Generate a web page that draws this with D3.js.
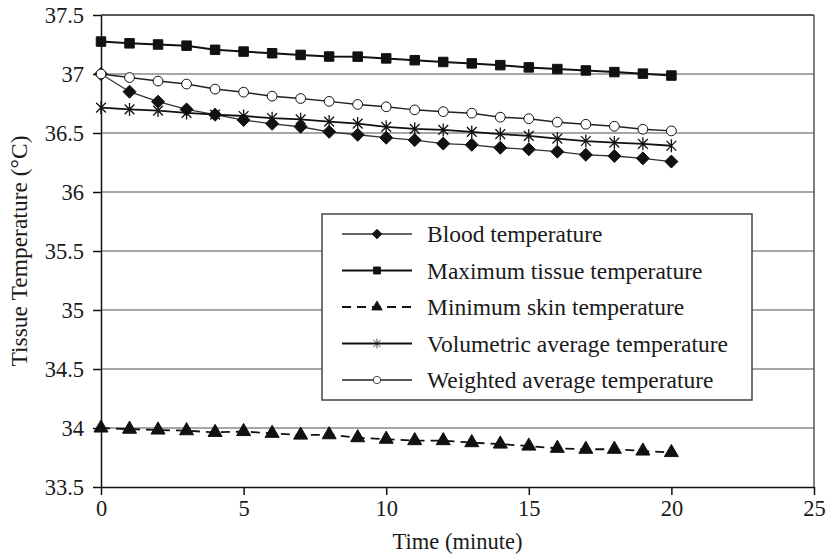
<!DOCTYPE html>
<html>
<head>
<meta charset="utf-8">
<script src="https://cdn.jsdelivr.net/npm/d3@7"></script>
<style>
  body { margin: 0; background: #fff; }
  text { font-family: "Liberation Serif", "DejaVu Serif", serif; fill: #1a1a1a; }
</style>
</head>
<body>
<div id="chart"></div>
<script>
// time in minutes
let minutes = d3.range(0, 21);

let xTicks = [0, 5, 10, 15, 20, 25];
let yTicks = [33.5, 34, 34.5, 35, 35.5, 36, 36.5, 37, 37.5];

let bloodTemp = [37.0, 36.85, 36.765, 36.70, 36.655, 36.61, 36.578, 36.553, 36.51, 36.485,
  36.46, 36.44, 36.41, 36.40, 36.375, 36.362, 36.342, 36.315, 36.305, 36.285, 36.258];
let maxTissueTemp = [37.275, 37.26, 37.25, 37.24, 37.205, 37.19, 37.176, 37.162, 37.148, 37.147,
  37.132, 37.117, 37.102, 37.09, 37.075, 37.056, 37.042, 37.03, 37.016, 37.003, 36.987];
let minSkinTemp = [34.0, 33.99, 33.983, 33.977, 33.963, 33.97, 33.955, 33.94, 33.943, 33.918,
  33.905, 33.893, 33.893, 33.876, 33.864, 33.847, 33.828, 33.82, 33.82, 33.805, 33.792];
let volumetricTemp = [36.715, 36.70, 36.69, 36.67, 36.656, 36.644, 36.626, 36.616, 36.597, 36.58,
  36.552, 36.535, 36.526, 36.509, 36.491, 36.476, 36.452, 36.432, 36.419, 36.408, 36.392];
let weightedTemp = [37.0, 36.97, 36.94, 36.915, 36.872, 36.846, 36.812, 36.792, 36.768, 36.742,
  36.722, 36.696, 36.681, 36.668, 36.634, 36.621, 36.592, 36.574, 36.557, 36.532, 36.518];

let seriesNames = ["Blood temperature", "Maximum tissue temperature", "Minimum skin temperature",
  "Volumetric average temperature", "Weighted average temperature"];

let svgWidth = 833;
let svgHeight = 559;
let margin = {top: 15, right: 19, bottom: 72, left: 101};
let plotW = svgWidth - margin.left - margin.right;
let plotH = svgHeight - margin.top - margin.bottom;

let svg = d3.select("#chart").append("svg")
  .attr("width", svgWidth)
  .attr("height", svgHeight);

let xScale = d3.scaleLinear().domain([0, 25]).range([margin.left, margin.left + plotW]);
let yScale = d3.scaleLinear().domain([33.5, 37.5]).range([margin.top + plotH, margin.top]);

//gridlines
svg.append("g").selectAll("line")
  .data(yTicks.filter(d => d > 33.5 && d < 37.5))
  .enter().append("line")
  .attr("x1", xScale(0)).attr("x2", xScale(25))
  .attr("y1", d => yScale(d)).attr("y2", d => yScale(d))
  .attr("stroke", "#8a8a8a")
  .attr("stroke-width", 1.5);

//plot frame top + right
svg.append("line")
  .attr("x1", xScale(0)).attr("x2", xScale(25))
  .attr("y1", yScale(37.5)).attr("y2", yScale(37.5))
  .attr("stroke", "#222").attr("stroke-width", 1.5);
svg.append("line")
  .attr("x1", xScale(25)).attr("x2", xScale(25))
  .attr("y1", yScale(37.5)).attr("y2", yScale(33.5))
  .attr("stroke", "#555").attr("stroke-width", 1.5);

//axes
let xAxis = d3.axisBottom(xScale).tickValues(xTicks).tickSize(8).tickSizeOuter(0).tickPadding(5);
let yAxis = d3.axisLeft(yScale).tickValues(yTicks).tickSize(8).tickSizeOuter(0).tickPadding(9)
  .tickFormat(d3.format("~g"));

let gx = svg.append("g")
  .attr("transform", "translate(0," + yScale(33.5) + ")")
  .call(xAxis);
let gy = svg.append("g")
  .attr("transform", "translate(" + xScale(0) + ",0)")
  .call(yAxis);

[gx, gy].forEach(function(g) {
  g.select(".domain").attr("stroke", "#111").attr("stroke-width", 1.5);
  g.selectAll(".tick line").attr("stroke", "#111").attr("stroke-width", 1.5);
  g.selectAll(".tick text")
    .style("font-family", "'Liberation Serif', serif")
    .style("font-size", "22.5px")
    .attr("fill", "#1a1a1a");
});

//axis titles
svg.append("text")
  .attr("x", (xScale(0) + xScale(25)) / 2)
  .attr("y", 549)
  .attr("text-anchor", "middle")
  .style("font-size", "22.5px")
  .text("Time (minute)");

svg.append("text")
  .attr("transform", "translate(27," + (yScale(35.5)) + ") rotate(-90)")
  .attr("text-anchor", "middle")
  .style("font-size", "23.5px")
  .text("Tissue Temperature (°C)");

//marker drawing
function asteriskPath(r) {
  let d = r * 0.75;
  return "M0," + (-r) + "L0," + r +
    "M" + (-d) + "," + (-d) + "L" + d + "," + d +
    "M" + (-d) + "," + d + "L" + d + "," + (-d);
}
function diamondPath(r) {
  return "M0," + (-r) + "L" + r + ",0L0," + r + "L" + (-r) + ",0Z";
}

let seriesStyles = [
  {values: bloodTemp, width: 1.3, stroke: "#333", dash: null,
    marker: diamondPath(6.5), fill: "#111"},
  {values: maxTissueTemp, width: 2, stroke: "#111", dash: null,
    marker: d3.symbol().type(d3.symbolSquare).size(90)(), fill: "#111"},
  {values: minSkinTemp, width: 1.8, stroke: "#111", dash: "9,6",
    marker: d3.symbol().type(d3.symbolTriangle).size(85)(), fill: "#111"},
  {values: volumetricTemp, width: 1.8, stroke: "#111", dash: null,
    marker: asteriskPath(6.5), fill: "none"},
  {values: weightedTemp, width: 1.5, stroke: "#222", dash: null,
    marker: d3.symbol().type(d3.symbolCircle).size(75)(), fill: "#fff"}
];

let line = d3.line()
  .x((d, i) => xScale(minutes[i]))
  .y(d => yScale(d));

seriesStyles.forEach(function(s) {
  let g = svg.append("g");
  g.append("path")
    .datum(s.values)
    .attr("d", line)
    .attr("fill", "none")
    .attr("stroke", s.stroke)
    .attr("stroke-width", s.width)
    .attr("stroke-dasharray", s.dash);

  g.selectAll("path.marker")
    .data(s.values)
    .enter().append("path")
    .attr("class", "marker")
    .attr("transform", (d, i) => "translate(" + xScale(minutes[i]) + "," + yScale(d) + ")")
    .attr("d", s.marker)
    .attr("fill", s.fill)
    .attr("stroke", "#111")
    .attr("stroke-width", s.fill === "none" ? 1.3 : 1);
});

//legend
let legend = svg.append("g");
legend.append("rect")
  .attr("x", 322).attr("y", 214)
  .attr("width", 430).attr("height", 186)
  .attr("fill", "#fff")
  .attr("stroke", "#444")
  .attr("stroke-width", 1.5);

let legendRows = legend.selectAll("g.row")
  .data(seriesStyles)
  .enter().append("g")
  .attr("class", "row")
  .attr("transform", (d, i) => "translate(0," + (234 + i * 36.5) + ")");

legendRows.append("line")
  .attr("x1", 342).attr("x2", 412)
  .attr("stroke", d => d.stroke)
  .attr("stroke-width", d => d.width)
  .attr("stroke-dasharray", d => d.dash);

legendRows.append("path")
  .attr("transform", "translate(377,0) scale(0.75)")
  .attr("d", d => d.marker)
  .attr("fill", d => d.fill)
  .attr("stroke", "#111")
  .attr("stroke-width", 1);

legendRows.append("text")
  .attr("x", 427)
  .attr("dy", "0.35em")
  .style("font-size", "23.5px")
  .text((d, i) => seriesNames[i]);
</script>
</body>
</html>
